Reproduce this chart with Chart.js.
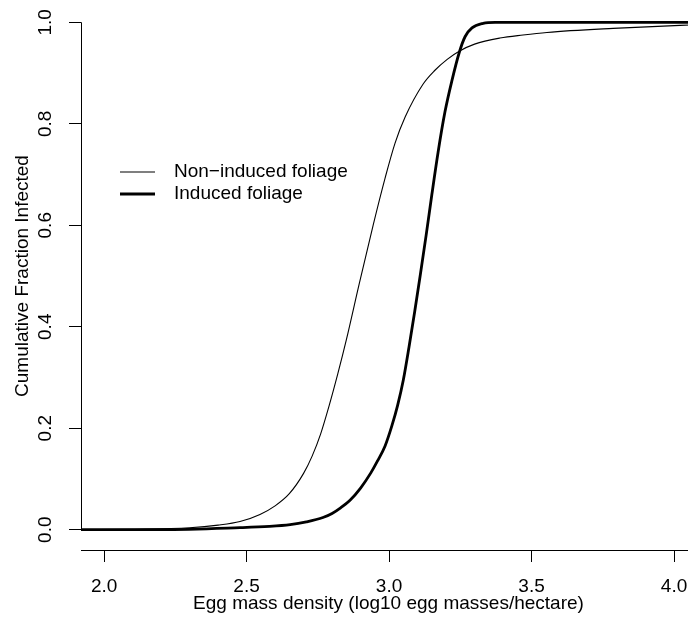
<!DOCTYPE html>
<html lang="en">
<head>
    <meta charset="UTF-8" />
    <title>Cumulative Fraction Infected</title>
    <script src="https://cdn.jsdelivr.net/npm/chart.js"></script>
    <style>
        html, body { margin: 0; padding: 0; background: #fff; overflow: hidden; }
        #clip { width: 688px; height: 619px; overflow: hidden; }
        #wrap { width: 696px; height: 619px; position: relative; }
    </style>
</head>
<body>
<div id="clip"><div id="wrap"><canvas id="chart"></canvas></div></div>

<script>
    // values
    const nonInducedX = [1.919, 2.10, 2.30, 2.40, 2.477, 2.547, 2.60, 2.65, 2.70, 2.73, 2.76, 2.79, 2.82, 2.85, 2.895, 2.944, 2.986, 3.021, 3.056, 3.119, 3.16, 3.204, 3.246, 3.30, 3.389, 3.47, 3.554, 3.786, 4.021, 4.077];
    const nonInducedY = [0.000, 0.001, 0.004, 0.009, 0.016, 0.030, 0.047, 0.071, 0.111, 0.145, 0.189, 0.245, 0.307, 0.374, 0.484, 0.600, 0.693, 0.762, 0.813, 0.878, 0.905, 0.927, 0.943, 0.957, 0.969, 0.975, 0.980, 0.988, 0.994, 0.995];

    const inducedX = [1.919, 2.20, 2.477, 2.58, 2.653, 2.71, 2.768, 2.80, 2.83, 2.863, 2.90, 2.936, 2.96, 2.986, 3.01, 3.03, 3.05, 3.07, 3.09, 3.109, 3.13, 3.15, 3.172, 3.196, 3.221, 3.246, 3.267, 3.291, 3.33, 3.372, 4.077];
    const inducedY = [0.000, 0.000, 0.004, 0.0065, 0.010, 0.0155, 0.024, 0.032, 0.043, 0.058, 0.082, 0.112, 0.136, 0.165, 0.205, 0.245, 0.295, 0.360, 0.430, 0.500, 0.580, 0.660, 0.744, 0.823, 0.886, 0.940, 0.972, 0.989, 0.998, 1.000, 1.000];

    const xTicks = [2.0, 2.5, 3.0, 3.5, 4.0];
    const yTicks = [0.0, 0.2, 0.4, 0.6, 0.8, 1.0];

    const seriesNames = ['Non\u2212induced foliage', 'Induced foliage'];
    const seriesWidths = [1.1, 2.8];

    const FONT = '"Liberation Sans", Arial, Helvetica, sans-serif';
    Chart.defaults.font.family = FONT;
    Chart.defaults.font.size = 19;
    Chart.defaults.color = '#000';

    const toPoints = (xs, ys) => xs.map((x, i) => ({ x: x, y: ys[i] }));

    // R style y axis line (only from first to last tick) and the legend box
    const rStyle = {
        id: 'rStyle',
        afterDraw(chart) {
            const ctx = chart.ctx;
            const y = chart.scales.y;
            const left = Math.round(chart.chartArea.left - 0.5) + 0.5;
            ctx.save();
            ctx.strokeStyle = '#000';
            ctx.lineWidth = 1;
            ctx.beginPath();
            ctx.moveTo(left, y.getPixelForValue(yTicks[0]));
            ctx.lineTo(left, y.getPixelForValue(yTicks[yTicks.length - 1]));
            ctx.stroke();

            // legend
            const rows = [172, 194];
            ctx.font = '19px ' + FONT;
            ctx.fillStyle = '#000';
            ctx.textBaseline = 'middle';
            ctx.textAlign = 'left';
            chart.data.datasets.forEach((ds, i) => {
                ctx.lineWidth = ds.borderWidth;
                ctx.beginPath();
                ctx.moveTo(120, rows[i]);
                ctx.lineTo(155, rows[i]);
                ctx.stroke();
                ctx.fillText(ds.label, 174, rows[i]);
            });
            ctx.restore();
        }
    };

    new Chart(document.getElementById('chart'), {
        type: 'line',
        data: {
            datasets: [
                { label: seriesNames[0], data: toPoints(nonInducedX, nonInducedY), borderWidth: seriesWidths[0] },
                { label: seriesNames[1], data: toPoints(inducedX, inducedY), borderWidth: seriesWidths[1] }
            ].map(d => ({
                ...d,
                borderColor: '#000',
                backgroundColor: '#000',
                pointRadius: 0,
                fill: false,
                cubicInterpolationMode: 'monotone',
                clip: false
            }))
        },
        options: {
            responsive: true,
            maintainAspectRatio: false,
            animation: false,
            layout: { padding: { top: 2, right: 0, bottom: 0, left: 0 } },
            plugins: { legend: { display: false }, tooltip: { enabled: false } },
            scales: {
                x: {
                    type: 'linear',
                    min: 1.919,
                    max: 4.077,
                    afterBuildTicks: s => { s.ticks = xTicks.map(v => ({ value: v })); },
                    afterFit: s => { s.height = 69; s.paddingLeft = 0; s.paddingRight = 0; },
                    ticks: { callback: v => v.toFixed(1), padding: 13, maxRotation: 0, autoSkip: false },
                    grid: { drawOnChartArea: false, drawTicks: true, tickLength: 12, color: '#000', tickColor: '#000' },
                    border: { display: true, color: '#000', width: 1 },
                    title: {
                        display: true,
                        text: 'Egg mass density (log10 egg masses/hectare)',
                        padding: { top: 0, bottom: 3.6 }
                    }
                },
                y: {
                    type: 'linear',
                    min: -0.04,
                    max: 1.04,
                    afterBuildTicks: s => { s.ticks = yTicks.map(v => ({ value: v })); },
                    afterFit: s => { s.width = 81; s.paddingTop = 0; s.paddingBottom = 0; },
                    ticks: { callback: v => v.toFixed(1), padding: 10, minRotation: 90, maxRotation: 90, crossAlign: 'center', autoSkip: false },
                    grid: { drawOnChartArea: false, drawTicks: true, tickLength: 12, color: '#000', tickColor: '#000' },
                    border: { display: false },
                    title: {
                        display: true,
                        text: 'Cumulative Fraction Infected',
                        padding: { top: 11, bottom: 0 }
                    }
                }
            }
        },
        plugins: [rStyle]
    });
</script>
</body>
</html>
